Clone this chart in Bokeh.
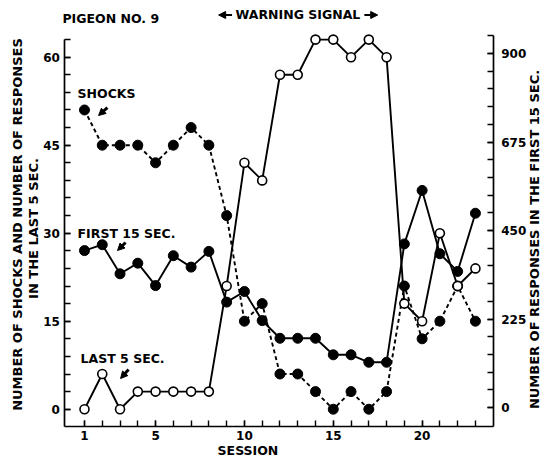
import math
from bokeh.plotting import figure
from bokeh.models import (Range1d, LinearAxis, FixedTicker, Label, Arrow,
                          NormalHead, ColumnDataSource)
from bokeh.embed import file_html
from bokeh.resources import INLINE

# ---------------- data ----------------
sessions = list(range(1, 24))
shocks = [51, 45, 45, 45, 42, 45, 48, 45, 33, 15, 18, 6, 6, 3, 0, 3, 0, 3, 21, 12, 15, 21, 15]
last5 = [0, 6, 0, 3, 3, 3, 3, 3, 21, 42, 39, 57, 57, 63, 63, 60, 63, 60, 18, 15, 30, 21, 24]
first15 = [399, 414, 340, 367, 310, 386, 357, 397, 268, 295, 221, 176, 176, 176, 134, 134,
           115, 115, 416, 552, 391, 346, 494]

x_ticks = [1, 5, 10, 15, 20]
x_minor = list(range(1, 24))
left_ticks = [0, 15, 30, 45, 60]
left_minor = list(range(0, 64, 3))
right_ticks = [0, 225, 450, 675, 900]
right_minor = list(range(0, 946, 45))

FONT = "DejaVu Sans"

# axis placement (data units)
X_LEFT, X_RIGHT = -0.1, 24.0
Y_BOTTOM, Y_TOP = -2.9, 63
R_BOTTOM, R_TOP = -47.3, 945

p = figure(width=546, height=458, output_backend="svg", toolbar_location=None,
           x_range=Range1d(-3.727, 27.0), y_range=Range1d(-8.40, 69.66),
           min_border_left=0, min_border_right=0, min_border_top=0,
           min_border_bottom=0, outline_line_color=None)
p.extra_y_ranges = {"right": Range1d(-129.7, 1035.0)}
p.grid.visible = False


def style(ax):
    ax.axis_line_width = 1.7
    ax.axis_line_color = "black"
    ax.major_tick_line_width = 1.4
    ax.minor_tick_line_width = 1.4
    ax.major_tick_line_color = "black"
    ax.minor_tick_line_color = "black"
    ax.major_tick_in = 6
    ax.major_tick_out = 0
    ax.minor_tick_in = 6
    ax.minor_tick_out = 0
    ax.major_label_text_font = FONT
    ax.major_label_text_font_style = "bold"
    ax.major_label_text_font_size = "12px"
    ax.major_label_text_color = "black"


# x axis
xa = p.xaxis[0]
style(xa)
xa.ticker = FixedTicker(ticks=x_ticks, minor_ticks=x_minor)
xa.fixed_location = Y_BOTTOM
xa.bounds = (X_LEFT, X_RIGHT)
xa.major_label_standoff = 5

# left axis
ya = p.yaxis[0]
style(ya)
ya.ticker = FixedTicker(ticks=left_ticks, minor_ticks=left_minor)
ya.fixed_location = X_LEFT
ya.bounds = (Y_BOTTOM, Y_TOP)
ya.major_label_standoff = 5

# right axis
ra = LinearAxis(y_range_name="right",
                ticker=FixedTicker(ticks=right_ticks, minor_ticks=right_minor))
style(ra)
ra.fixed_location = X_RIGHT
ra.bounds = (R_BOTTOM, R_TOP)
ra.major_label_standoff = 8
p.add_layout(ra, "right")

src = ColumnDataSource(dict(session=sessions, shocks=shocks, last5=last5, first15=first15))

# shocks (dashed, filled)
p.line("session", "shocks", source=src, line_dash="4 3", line_width=1.9, line_color="black")
p.scatter("session", "shocks", source=src, size=10, fill_color="black", line_color="black")

# first 15 sec (solid, filled, right axis)
p.line("session", "first15", source=src, y_range_name="right", line_width=1.9,
       line_color="black")
p.scatter("session", "first15", source=src, y_range_name="right", size=10,
          fill_color="black", line_color="black")

# last 5 sec (solid, open)
p.line("session", "last5", source=src, line_width=1.9, line_color="black")
p.scatter("session", "last5", source=src, size=9, fill_color="white", line_color="black",
          line_width=1.6)


def lab(x, y, text, size="12.5px", align="left", angle=0.0):
    p.add_layout(Label(x=x, y=y, text=text, text_font=FONT, text_font_style="bold",
                       text_font_size=size, text_color="black", text_align=align,
                       text_baseline="middle", angle=angle))


def arr(x0, y0, x1, y1, w=3, hs=7):
    p.add_layout(Arrow(end=NormalHead(size=hs, fill_color="black", line_color="black"),
                       x_start=x0, y_start=y0, x_end=x1, y_end=y1,
                       line_width=w, line_color="black"))


# series annotations
lab(0.61, 53.81, "SHOCKS")
arr(2.29, 51.42, 1.79, 50.06)
lab(0.61, 29.95, "FIRST 15 SEC.")
arr(3.31, 28.41, 2.86, 27.05)
lab(0.78, 8.64, "LAST 5 SEC.")
arr(3.48, 6.77, 3.03, 5.23)

# header
lab(-0.24, 66.59, "PIGEON NO. 9")
lab(13.01, 67.19, "WARNING SIGNAL", align="center")
arr(9.3, 67.19, 8.55, 67.19, w=2, hs=7)
arr(16.75, 67.19, 17.5, 67.19, w=2, hs=7)

# axis titles
lab(-2.77, 31.48, "NUMBER OF SHOCKS AND NUMBER OF RESPONSES", size="13px",
    align="center", angle=math.pi / 2)
lab(-1.87, 30.80, "IN THE LAST 5 SEC.", size="13px", align="center", angle=math.pi / 2)
lab(26.33, 28.93, "NUMBER OF RESPONSES IN THE FIRST 15 SEC.", size="13px",
    align="center", angle=math.pi / 2)
lab(10.2, -7.04, "SESSION", size="12.5px", align="center")

open("out.html", "w").write(file_html(p, INLINE))
